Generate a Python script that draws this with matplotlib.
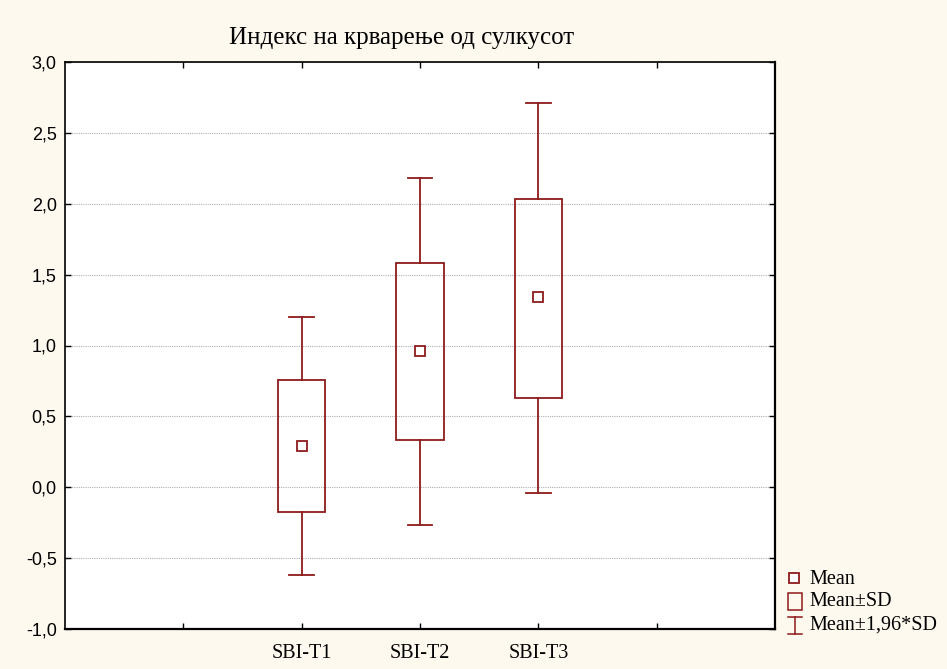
import matplotlib
matplotlib.use("Agg")
import matplotlib.pyplot as plt
from matplotlib.patches import Rectangle
from matplotlib.ticker import FuncFormatter

categories = ["SBI-T1", "SBI-T2", "SBI-T3"]
means = [0.29, 0.96, 1.34]
sd_low = [-0.175, 0.333, 0.63]
sd_high = [0.757, 1.582, 2.033]
ci_low = [-0.619, -0.266, -0.041]
ci_high = [1.20, 2.18, 2.711]
yticks = [-1.0, -0.5, 0.0, 0.5, 1.0, 1.5, 2.0, 2.5, 3.0]
legend_labels = ["Mean", "Mean±SD", "Mean±1,96*SD"]

RED = "#8e1b1b"
BG = "#fdf9ef"
SERIF = ["Liberation Serif", "DejaVu Serif"]
SANS = ["Liberation Sans", "DejaVu Sans"]

fig = plt.figure(figsize=(9.47, 6.69), dpi=100, facecolor=BG)
ax = fig.add_axes([65/947, 1-629/669, (775-65)/947, (629-62)/669])
ax.set_facecolor("white")

positions = [2, 3, 4]
bw = 0.4
cw = 0.21
for x, m, sl, sh, cl, ch in zip(positions, means, sd_low, sd_high, ci_low, ci_high):
    ax.add_patch(Rectangle((x-bw/2, sl), bw, sh-sl, fill=False, edgecolor=RED, lw=1.3, zorder=3))
    ax.plot([x, x], [sh, ch], color=RED, lw=1.3, zorder=3)
    ax.plot([x, x], [cl, sl], color=RED, lw=1.3, zorder=3)
    ax.plot([x-cw/2, x+cw/2], [ch, ch], color=RED, lw=1.3, zorder=3)
    ax.plot([x-cw/2, x+cw/2], [cl, cl], color=RED, lw=1.3, zorder=3)
    ax.plot([x], [m], marker="s", ms=6.5, mfc="white", mec=RED, mew=1.3, zorder=4)

ax.set_xlim(0, 6)
ax.set_ylim(-1.0, 3.0)
ax.set_xticks([1, 2, 3, 4, 5])
ax.set_xticklabels(["", categories[0], categories[1], categories[2], ""],
                   fontfamily=SERIF, fontsize=14.5)
ax.set_yticks(yticks)
ax.yaxis.set_major_formatter(FuncFormatter(lambda v, p: f"{v:.1f}".replace(".", ",")))
for lab in ax.get_yticklabels():
    lab.set_fontfamily(SANS)
    lab.set_fontsize(13)
ax.tick_params(direction="in", length=4, color="black", width=1,
               top=True, right=True)
ax.tick_params(axis="x", pad=11)
ax.tick_params(axis="y", pad=6)
ax.grid(axis="y", color="#b0b0b0", linestyle=(0, (1, 1)), lw=0.8)
ax.set_axisbelow(True)
for s in ax.spines.values():
    s.set_linewidth(1.2)
ax.spines["right"].set_linewidth(1.6)
ax.spines["bottom"].set_linewidth(1.6)

fig.text(402/947, 1-38/669, "Индекс на крварење од сулкусот",
         ha="center", va="center", fontfamily=SERIF, fontsize=18)

# legend drawn in pixel space
lx = fig.add_axes([0, 0, 1, 1], facecolor="none")
lx.set_xlim(0, 947)
lx.set_ylim(669, 0)
lx.axis("off")
lx.plot([794], [578], marker="s", ms=6.5, mfc="white", mec=RED, mew=1.3)
lx.add_patch(Rectangle((787.5, 592.5), 14, 17, fill=False, edgecolor=RED, lw=1.1))
lx.plot([794.5, 794.5], [617, 634], color=RED, lw=1.1)
lx.plot([787.5, 802], [617, 617], color=RED, lw=1.1)
lx.plot([787.5, 802], [634, 634], color=RED, lw=1.1)
for yy, t in zip([579, 602, 625], legend_labels):
    lx.text(809, yy, t, ha="left", va="center", fontfamily=SERIF, fontsize=14.5)

fig.savefig("out.png", dpi=100, facecolor=BG)
